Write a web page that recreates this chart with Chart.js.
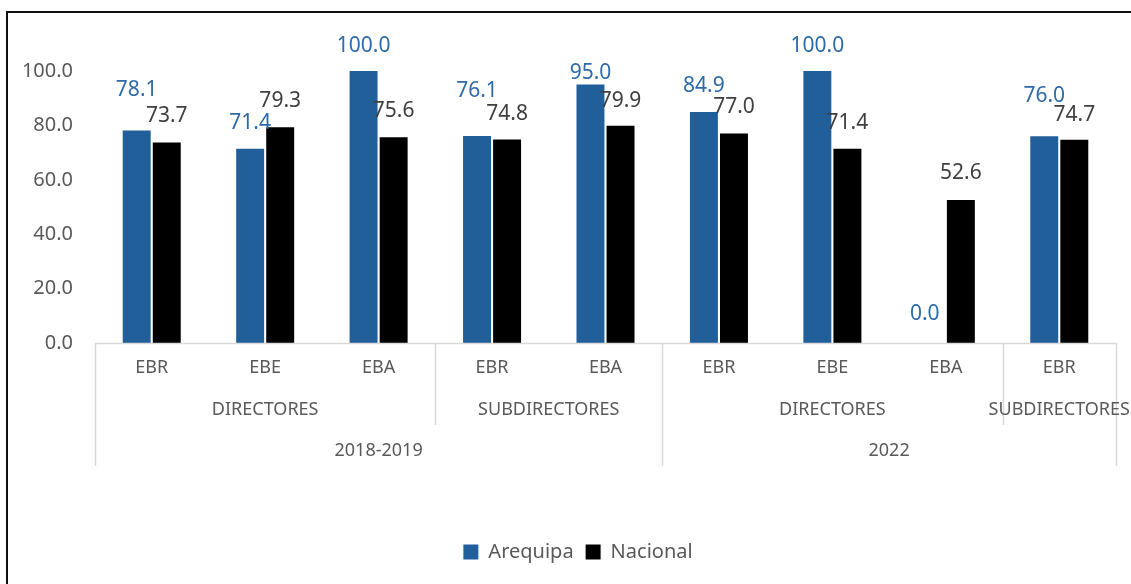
<!DOCTYPE html>
<html lang="es">
<head>
  <meta charset="UTF-8">
  <title>Arequipa vs Nacional</title>
  <script src="https://cdn.jsdelivr.net/npm/chart.js"></script>
  <style>
    body { margin: 0; padding: 0; background: #ffffff; }
    .wrap { width: 1131px; height: 584px; position: relative; }
  </style>
</head>
<body>
  <div class="wrap"><canvas id="barChart"></canvas></div>

  <script>
    // categories (three levels, innermost first)
    const niveles = ['EBR', 'EBE', 'EBA', 'EBR', 'EBA', 'EBR', 'EBE', 'EBA', 'EBR'];
    const cargos = ['DIRECTORES', 'DIRECTORES', 'DIRECTORES', 'SUBDIRECTORES', 'SUBDIRECTORES',
                    'DIRECTORES', 'DIRECTORES', 'DIRECTORES', 'SUBDIRECTORES'];
    const periodos = ['2018-2019', '2018-2019', '2018-2019', '2018-2019', '2018-2019',
                      '2022', '2022', '2022', '2022'];

    // series
    const arequipa = [78.1, 71.4, 100.0, 76.1, 95.0, 84.9, 100.0, 0.0, 76.0];
    const nacional = [73.7, 79.3, 75.6, 74.8, 79.9, 77.0, 71.4, 52.6, 74.7];

    const yTicks = [0, 20, 40, 60, 80, 100];

    // how far above the bar each label sits (px), labels were nudged by hand in the original
    const liftArequipa = [41, 26, 25, 45, 12, 26, 25, 29, 40];
    const liftNacional = [27, 26, 26, 26, 25, 27, 26, 27, 25];

    const blue = '#215f9a';
    const axisGray = '#d9d9d9';
    const textGray = '#595959';
    const FONT = '"Noto Sans", sans-serif';

    const frame = {
      id: 'frame',
      beforeDraw(chart) {
        const c = chart.ctx;
        c.save();
        c.fillStyle = '#fff';
        c.fillRect(0, 0, chart.width, chart.height);
        c.strokeStyle = '#111';
        c.lineWidth = 2;
        c.strokeRect(7, 12, 1300, 700);
        c.restore();
      }
    };

    // the original legend sits a little right of the canvas centre
    const legendShift = {
      id: 'legendShift',
      afterLayout(chart) {
        if (!chart.legend) return;
        chart.legend.left += 20;
        chart.legend.right += 20;
      }
    };

    const valueLabels = {
      id: 'valueLabels',
      afterDatasetsDraw(chart) {
        const c = chart.ctx;
        c.save();
        c.font = '21px ' + FONT;
        c.textAlign = 'center';
        c.textBaseline = 'middle';
        chart.data.datasets.forEach((ds, i) => {
          const meta = chart.getDatasetMeta(i);
          const lifts = i === 0 ? liftArequipa : liftNacional;
          c.fillStyle = i === 0 ? '#2e6ba8' : '#404040';
          meta.data.forEach((bar, j) => {
            // a zero bar has no width to sit on, so keep its label clear of the neighbour
            const bx = ds.data[j] === 0 ? bar.x - 6 : bar.x;
            c.fillText(ds.data[j].toFixed(1), bx, bar.y - lifts[j]);
          });
        });
        c.restore();
      }
    };

    // multi-level category axis drawn under the plot
    const groupedAxis = {
      id: 'groupedAxis',
      afterDraw(chart) {
        const c = chart.ctx;
        const x = chart.scales.x;
        const top = chart.chartArea.bottom;
        const n = niveles.length;
        const step = (x.right - x.left) / n;
        const edge = k => x.left + k * step;
        const rows = [
          { arr: niveles, y: 368, lineTo: 387 },
          { arr: cargos, y: 410, lineTo: 425 },
          { arr: periodos, y: 451, lineTo: 466 }
        ];
        c.save();
        c.strokeStyle = axisGray;
        c.lineWidth = 1.5;
        c.beginPath();
        c.moveTo(x.left, top + 0.5);
        c.lineTo(x.right, top + 0.5);
        c.stroke();
        c.font = '18px ' + FONT;
        c.fillStyle = textGray;
        c.textAlign = 'center';
        c.textBaseline = 'middle';

        // find group runs per row
        const runsOf = (arr, parent) => {
          const runs = [];
          let s = 0;
          for (let k = 1; k <= n; k++) {
            const broken = k === n || arr[k] !== arr[s] || (parent && parent[k] !== parent[s]);
            if (broken) { runs.push([s, k]); s = k; }
          }
          return runs;
        };
        const runs0 = niveles.map((_, k) => [k, k + 1]);
        const runs1 = runsOf(cargos, periodos);
        const runs2 = runsOf(periodos);

        // a boundary goes down to the deepest row it separates
        const depth = new Array(n + 1).fill(0);
        runs1.forEach(r => { depth[r[0]] = Math.max(depth[r[0]], 1); depth[r[1]] = Math.max(depth[r[1]], 1); });
        runs2.forEach(r => { depth[r[0]] = 2; depth[r[1]] = 2; });
        for (let k = 0; k <= n; k++) {
          if (depth[k] === 0) continue;
          const px = Math.round(edge(k)) + 0.5;
          c.beginPath();
          c.moveTo(px, top);
          c.lineTo(px, rows[depth[k]].lineTo);
          c.stroke();
        }

        [runs0, runs1, runs2].forEach((runs, r) => {
          const arr = rows[r].arr;
          runs.forEach(([a, b]) => {
            c.fillText(arr[a], (edge(a) + edge(b)) / 2, rows[r].y);
          });
        });
        c.restore();
      }
    };

    new Chart(document.getElementById('barChart'), {
      type: 'bar',
      data: {
        labels: niveles,
        datasets: [
          { label: 'Arequipa', data: arequipa, backgroundColor: blue, borderWidth: 0 },
          { label: 'Nacional', data: nacional, backgroundColor: '#000000', borderWidth: 0 }
        ]
      },
      options: {
        responsive: true,
        maintainAspectRatio: false,
        animation: false,
        layout: { padding: { top: 71, right: 15, left: 0, bottom: 12 } },
        datasets: { bar: { categoryPercentage: 0.53, barPercentage: 0.93 } },
        plugins: {
          legend: {
            position: 'bottom',
            labels: {
              font: { family: FONT, size: 20 },
              color: textGray,
              boxWidth: 15,
              boxHeight: 15,
              padding: 12
            }
          },
          title: { display: false },
          tooltip: { enabled: false }
        },
        scales: {
          x: {
            grid: { display: false },
            border: { display: false },
            ticks: { display: false },
            afterFit(scale) { scale.height = 187; }
          },
          y: {
            min: 0,
            max: 100,
            afterBuildTicks(scale) { scale.ticks = yTicks.map(v => ({ value: v })); },
            afterFit(scale) { scale.width = 95; },
            grid: { display: false },
            border: { display: false },
            ticks: {
              padding: 14,
              color: textGray,
              font: { family: FONT, size: 20 },
              callback: v => v.toFixed(1)
            }
          }
        }
      },
      plugins: [frame, legendShift, valueLabels, groupedAxis]
    });
  </script>
</body>
</html>
